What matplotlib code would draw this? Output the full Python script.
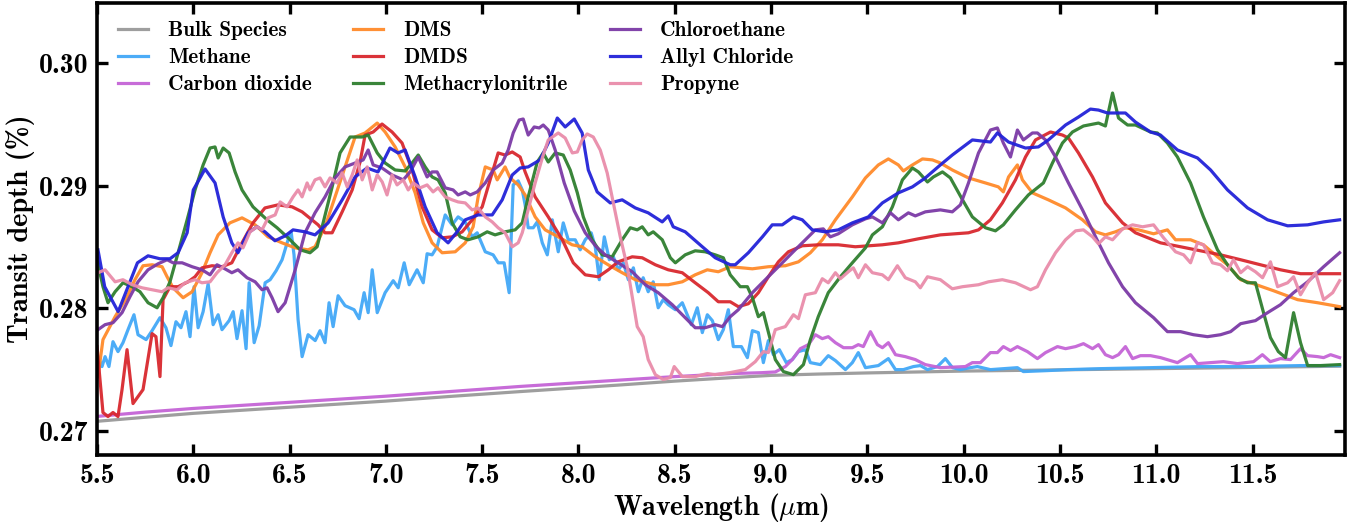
import matplotlib
matplotlib.use('Agg')
import matplotlib.pyplot as plt
from matplotlib.ticker import FormatStrFormatter

# ---------------- data (wavelength um, transit depth %) ----------------
labels = ["Bulk Species", "Methane", "Carbon dioxide", "DMS", "DMDS",
          "Methacrylonitrile", "Chloroethane", "Allyl Chloride", "Propyne"]
colors = ["#999999", "#42a8f7", "#c464d6", "#ff8a2a", "#d8282e",
          "#2f7f2f", "#7b3aa6", "#2222d8", "#e98caa"]

bulk = [(5.5, 0.27075), (5.75, 0.27108), (6.0, 0.27140), (6.3, 0.27170), (6.6, 0.27200),
        (7.0, 0.27240), (7.35, 0.27280), (7.7, 0.27318), (8.2, 0.27370), (8.5, 0.27403),
        (8.8, 0.27432), (9.0, 0.27450), (9.25, 0.27461), (9.5, 0.27470), (10.0, 0.27485),
        (10.5, 0.27495), (11.0, 0.27505), (11.5, 0.27515), (11.952, 0.27525)]

methane = [(5.505,0.27603),(5.526,0.27522),(5.542,0.27603),(5.562,0.27522),(5.583,0.27725),
    (5.609,0.27644),(5.635,0.27717),(5.661,0.27823),(5.692,0.27945),(5.713,0.27782),
    (5.755,0.27742),(5.786,0.27815),(5.827,0.27921),(5.858,0.27839),(5.884,0.27693),
    (5.91,0.27888),(5.936,0.27839),(5.962,0.27970),(5.983,0.27766),(6.004,0.28174),
    (6.025,0.27839),(6.051,0.27970),(6.077,0.28198),(6.103,0.27864),(6.129,0.27945),
    (6.149,0.27823),(6.186,0.27897),(6.207,0.27970),(6.227,0.27750),(6.253,0.27978),
    (6.274,0.27668),(6.29,0.28206),(6.316,0.27717),(6.342,0.27856),(6.373,0.28206),
    (6.399,0.28231),(6.43,0.28304),(6.461,0.28394),(6.492,0.28557),(6.508,0.28622),
    (6.523,0.28434),(6.544,0.27905),(6.565,0.27603),(6.596,0.27782),(6.633,0.27734),
    (6.658,0.27815),(6.684,0.27717),(6.705,0.28043),(6.726,0.27848),(6.752,0.28100),
    (6.788,0.28019),(6.835,0.27986),(6.861,0.27913),(6.887,0.28125),(6.908,0.27962),
    (6.929,0.28312),(6.955,0.27962),(6.996,0.28125),(7.038,0.28223),(7.064,0.28165),
    (7.095,0.28369),(7.121,0.28190),(7.162,0.28312),(7.194,0.28206),(7.214,0.28443),
    (7.24,0.28434),(7.266,0.28500),(7.308,0.28760),(7.344,0.28679),(7.375,0.28744),
    (7.412,0.28703),(7.448,0.28581),(7.474,0.28614),(7.516,0.28459),(7.557,0.28434),
    (7.583,0.28369),(7.614,0.28369),(7.64,0.28125),(7.661,0.29005),(7.687,0.29038),
    (7.708,0.28964),(7.723,0.28842),(7.739,0.28655),(7.765,0.28655),(7.786,0.28703),
    (7.812,0.28532),(7.838,0.28434),(7.864,0.28720),(7.895,0.28459),(7.921,0.28695),
    (7.947,0.28557),(7.983,0.28557),(8.009,0.28475),(8.035,0.28557),(8.066,0.28614),
    (8.087,0.28500),(8.108,0.28231),(8.134,0.28581),(8.16,0.28394),(8.181,0.28418),
    (8.207,0.28312),(8.233,0.28369),(8.259,0.28231),(8.285,0.28328),(8.311,0.28133),
    (8.336,0.28247),(8.362,0.28133),(8.388,0.28214),(8.414,0.28002),(8.44,0.28068),
    (8.466,0.28027),(8.503,0.27986),(8.539,0.28043),(8.565,0.27945),(8.586,0.27864),
    (8.617,0.28002),(8.643,0.27799),(8.669,0.27945),(8.695,0.27897),(8.726,0.27742),
    (8.752,0.27823),(8.778,0.27986),(8.804,0.27685),(8.846,0.27685),(8.877,0.27595),
    (8.903,0.27815),(8.934,0.27799),(8.96,0.27554),(8.986,0.27734),(9.012,0.27619),
    (9.043,0.27660),(9.079,0.27554),(9.11,0.27579),(9.142,0.27644),(9.178,0.27660),
    (9.204,0.27554),(9.256,0.27538),(9.297,0.27611),(9.334,0.27571),(9.386,0.27497),
    (9.422,0.27554),(9.453,0.27636),(9.49,0.27513),(9.557,0.27530),(9.609,0.27587),
    (9.646,0.27497),(9.687,0.27497),(9.739,0.27522),(9.775,0.27530),(9.812,0.27497),
    (9.864,0.27522),(9.905,0.27587),(9.942,0.27513),(9.983,0.27497),(10.035,0.27513),
    (10.071,0.27522),(10.139,0.27497),(10.207,0.27505),(10.279,0.27513),(10.31,0.27481),
    (10.435,0.27489),(10.539,0.27497),(10.71,0.27505),(10.97,0.27513),(11.23,0.27522),
    (11.49,0.27522),(11.75,0.27530),(11.952,0.27530)]

co2 = [(5.5,0.27115),(5.75,0.27150),(6.0,0.27180),(6.3,0.27210),(6.6,0.27240),(7.0,0.27280),
    (7.35,0.27320),(7.7,0.27360),(8.2,0.27410),(8.5,0.27440),(8.8,0.27465),(8.95,0.27472),
    (9.022,0.27478),(9.074,0.27522),(9.11,0.27579),(9.152,0.27668),(9.194,0.27701),
    (9.23,0.27782),(9.266,0.27750),(9.297,0.27766),(9.334,0.27717),(9.376,0.27676),
    (9.422,0.27676),(9.453,0.27701),(9.479,0.27685),(9.516,0.27807),(9.552,0.27701),
    (9.578,0.27676),(9.609,0.27717),(9.646,0.27619),(9.697,0.27603),(9.749,0.27579),
    (9.801,0.27538),(9.879,0.27513),(10.009,0.27522),(10.045,0.27554),(10.087,0.27554),
    (10.139,0.27636),(10.175,0.27636),(10.206,0.27685),(10.243,0.27652),(10.279,0.27685),
    (10.331,0.27644),(10.383,0.27587),(10.425,0.27636),(10.487,0.27685),(10.529,0.27668),
    (10.581,0.27685),(10.622,0.27709),(10.669,0.27668),(10.70,0.27701),(10.736,0.27619),
    (10.773,0.27595),(10.804,0.27619),(10.84,0.27685),(10.877,0.27587),(10.918,0.27611),
    (10.97,0.27611),(11.022,0.27595),(11.11,0.27554),(11.178,0.27619),(11.214,0.27546),
    (11.349,0.27562),(11.422,0.27546),(11.505,0.27562),(11.551,0.27619),(11.592,0.27562),
    (11.645,0.27587),(11.697,0.27579),(11.749,0.27668),(11.786,0.27611),(11.838,0.27603),
    (11.869,0.27595),(11.905,0.27619),(11.952,0.27595)]

dms = [(5.505,0.27440),(5.531,0.27742),(5.594,0.27929),(5.656,0.28092),(5.697,0.28231),
    (5.739,0.28345),(5.786,0.28353),(5.838,0.28337),(5.864,0.28255),(5.895,0.28165),
    (5.947,0.28084),(5.994,0.28133),(6.045,0.28288),(6.087,0.28451),(6.129,0.28597),
    (6.19,0.28695),(6.253,0.28736),(6.321,0.28679),(6.388,0.28581),(6.461,0.28532),
    (6.529,0.28491),(6.596,0.28475),(6.632,0.28500),(6.684,0.28663),(6.736,0.28907),
    (6.788,0.29152),(6.84,0.29396),(6.892,0.29429),(6.955,0.29510),(6.996,0.29437),
    (7.048,0.29315),(7.10,0.29152),(7.152,0.28940),(7.194,0.28695),(7.24,0.28532),
    (7.292,0.28451),(7.36,0.28459),(7.412,0.28532),(7.453,0.28663),(7.479,0.28907),
    (7.516,0.29152),(7.557,0.29127),(7.578,0.29046),(7.619,0.29152),(7.645,0.29062),
    (7.687,0.29005),(7.723,0.28923),(7.775,0.28744),(7.827,0.28638),(7.895,0.28581),
    (7.967,0.28516),(8.019,0.28500),(8.087,0.28418),(8.154,0.28353),(8.227,0.28288),
    (8.295,0.28231),(8.399,0.28190),(8.466,0.28190),(8.539,0.28214),(8.606,0.28271),
    (8.669,0.28312),(8.726,0.28296),(8.788,0.28337),(8.903,0.28320),(8.986,0.28337),
    (9.074,0.28345),(9.142,0.28377),(9.204,0.28451),(9.266,0.28557),(9.334,0.28720),
    (9.422,0.28907),(9.49,0.29062),(9.557,0.29168),(9.609,0.29217),(9.661,0.29168),
    (9.687,0.29119),(9.734,0.29168),(9.786,0.29217),(9.838,0.29209),(9.879,0.29184),
    (9.941,0.29127),(10.025,0.29062),(10.113,0.29021),(10.18,0.28989),(10.206,0.28948),
    (10.233,0.29070),(10.279,0.29168),(10.305,0.29046),(10.357,0.28940),(10.44,0.28883),
    (10.529,0.28817),(10.617,0.28720),(10.685,0.28622),(10.736,0.28597),(10.788,0.28622),
    (10.84,0.28655),(10.908,0.28638),(10.986,0.28606),(11.058,0.28638),(11.10,0.28557),
    (11.178,0.28557),(11.245,0.28516),(11.318,0.28418),(11.37,0.28353),(11.438,0.28231),
    (11.505,0.28198),(11.609,0.28141),(11.734,0.28068),(11.838,0.28043),(11.952,0.28011)]

dmds = [(5.50,0.27685),(5.531,0.27147),(5.557,0.27114),(5.583,0.27147),(5.609,0.27114),
    (5.63,0.27334),(5.656,0.27660),(5.687,0.27220),(5.739,0.27334),(5.786,0.27791),
    (5.806,0.27766),(5.827,0.27440),(5.843,0.28068),(5.879,0.28174),(5.921,0.28174),
    (5.973,0.28214),(6.009,0.28255),(6.045,0.28328),(6.097,0.28345),(6.149,0.28337),
    (6.20,0.28369),(6.253,0.28532),(6.31,0.28695),(6.372,0.28817),(6.44,0.28842),
    (6.513,0.28826),(6.565,0.28785),(6.648,0.28679),(6.684,0.28614),(6.721,0.28614),
    (6.773,0.28785),(6.825,0.28964),(6.866,0.29192),(6.892,0.29412),(6.934,0.29437),
    (6.98,0.29502),(7.032,0.29437),(7.084,0.29347),(7.136,0.29127),(7.188,0.28826),
    (7.24,0.28638),(7.292,0.28573),(7.344,0.28581),(7.396,0.28622),(7.448,0.28720),
    (7.50,0.28826),(7.541,0.29046),(7.583,0.29266),(7.619,0.29249),(7.656,0.29274),
    (7.697,0.29233),(7.723,0.29111),(7.775,0.28907),(7.843,0.28744),(7.916,0.28557),
    (7.973,0.28369),(8.035,0.28271),(8.103,0.28255),(8.155,0.28312),(8.206,0.28377),
    (8.279,0.28418),(8.331,0.28410),(8.399,0.28353),(8.466,0.28312),(8.539,0.28288),
    (8.606,0.28206),(8.674,0.28125),(8.726,0.28051),(8.788,0.28051),(8.83,0.28011),
    (8.882,0.28035),(8.934,0.28125),(8.986,0.28255),(9.038,0.28377),(9.09,0.28459),
    (9.162,0.28508),(9.245,0.28516),(9.349,0.28516),(9.437,0.28500),(9.578,0.28516),
    (9.661,0.28532),(9.765,0.28565),(9.879,0.28597),(10.025,0.28614),(10.077,0.28638),
    (10.139,0.28720),(10.201,0.28858),(10.269,0.29046),(10.321,0.29233),(10.373,0.29372),
    (10.451,0.29437),(10.513,0.29412),(10.544,0.29388),(10.596,0.29266),(10.669,0.29070),
    (10.736,0.28858),(10.825,0.28695),(10.892,0.28614),(10.97,0.28565),(11.022,0.28532),
    (11.126,0.28500),(11.23,0.28467),(11.334,0.28434),(11.438,0.28394),(11.541,0.28353),
    (11.645,0.28312),(11.749,0.28280),(11.952,0.28280)]

methacrylonitrile = [(5.50,0.28394),(5.531,0.28174),(5.557,0.28043),(5.594,0.28133),
    (5.635,0.28206),(5.682,0.28174),(5.723,0.28133),(5.765,0.28043),(5.812,0.28002),
    (5.843,0.28084),(5.879,0.28214),(5.921,0.28451),(5.968,0.28720),(6.009,0.28964),
    (6.051,0.29168),(6.087,0.29306),(6.113,0.29315),(6.129,0.29225),(6.155,0.29306),
    (6.186,0.29266),(6.217,0.29111),(6.253,0.28964),(6.31,0.28826),(6.383,0.28720),
    (6.435,0.28655),(6.492,0.28573),(6.555,0.28475),(6.606,0.28451),(6.643,0.28500),
    (6.674,0.28695),(6.721,0.28989),(6.762,0.29266),(6.814,0.29396),(6.877,0.29396),
    (6.908,0.29412),(6.955,0.29266),(6.996,0.29184),(7.048,0.29127),(7.10,0.29119),
    (7.136,0.29184),(7.168,0.29249),(7.204,0.29152),(7.24,0.29070),(7.271,0.29046),
    (7.308,0.28940),(7.344,0.28695),(7.386,0.28581),(7.427,0.28557),(7.479,0.28581),
    (7.526,0.28622),(7.567,0.28597),(7.619,0.28622),(7.671,0.28638),(7.708,0.28695),
    (7.739,0.28907),(7.786,0.29192),(7.817,0.29266),(7.843,0.29192),(7.879,0.29266),
    (7.921,0.29249),(7.957,0.29127),(7.994,0.28940),(8.025,0.28744),(8.071,0.28557),
    (8.123,0.28434),(8.175,0.28418),(8.227,0.28557),(8.269,0.28655),(8.305,0.28638),
    (8.331,0.28663),(8.362,0.28597),(8.388,0.28622),(8.435,0.28557),(8.477,0.28410),
    (8.503,0.28369),(8.554,0.28434),(8.606,0.28467),(8.658,0.28459),(8.71,0.28434),
    (8.752,0.28410),(8.788,0.28271),(8.84,0.28174),(8.877,0.28174),(8.903,0.28084),
    (8.934,0.27929),(8.96,0.27962),(8.996,0.27742),(9.022,0.27579),(9.064,0.27481),
    (9.116,0.27456),(9.168,0.27538),(9.204,0.27742),(9.245,0.27929),(9.297,0.28125),
    (9.36,0.28255),(9.422,0.28369),(9.49,0.28491),(9.526,0.28597),(9.578,0.28663),
    (9.63,0.28826),(9.682,0.29046),(9.734,0.29143),(9.765,0.29111),(9.812,0.29029),
    (9.843,0.29070),(9.89,0.29111),(9.931,0.29062),(9.994,0.28883),(10.045,0.28744),
    (10.113,0.28655),(10.165,0.28630),(10.206,0.28679),(10.269,0.28801),(10.336,0.28923),
    (10.414,0.29021),(10.461,0.29184),(10.513,0.29347),(10.565,0.29437),(10.622,0.29486),
    (10.70,0.29510),(10.736,0.29486),(10.773,0.29755),(10.804,0.29551),(10.851,0.29494),
    (10.892,0.29494),(10.97,0.29437),(11.006,0.29429),(11.058,0.29347),(11.11,0.29233),
    (11.178,0.29021),(11.245,0.28744),(11.318,0.28475),(11.37,0.28353),(11.427,0.28247),
    (11.474,0.28206),(11.515,0.28206),(11.557,0.27962),(11.593,0.27758),(11.634,0.27644),
    (11.671,0.27595),(11.713,0.27962),(11.749,0.27717),(11.786,0.27530),(11.853,0.27530),
    (11.952,0.27538)]

chloroethane = [(5.505,0.27823),(5.542,0.27864),(5.583,0.27880),(5.63,0.27962),(5.671,0.28092),
    (5.713,0.28214),(5.765,0.28312),(5.817,0.28361),(5.864,0.28394),(5.895,0.28369),
    (5.942,0.28369),(5.994,0.28337),(6.045,0.28312),(6.087,0.28271),(6.123,0.28353),
    (6.155,0.28328),(6.20,0.28288),(6.232,0.28312),(6.279,0.28247),(6.321,0.28214),
    (6.357,0.28149),(6.383,0.28165),(6.409,0.28084),(6.44,0.27970),(6.477,0.28043),
    (6.529,0.28312),(6.58,0.28614),(6.632,0.28777),(6.684,0.28907),(6.736,0.29062),
    (6.788,0.29152),(6.84,0.29184),(6.882,0.29209),(6.908,0.29290),(6.934,0.29168),
    (6.98,0.29143),(7.032,0.29086),(7.09,0.29046),(7.126,0.29111),(7.168,0.29233),
    (7.214,0.29070),(7.24,0.29111),(7.266,0.29111),(7.308,0.28981),(7.349,0.28964),
    (7.375,0.28923),(7.412,0.28948),(7.438,0.28923),(7.474,0.28948),(7.516,0.29021),
    (7.557,0.29127),(7.604,0.29184),(7.635,0.29290),(7.661,0.29429),(7.692,0.29535),
    (7.713,0.29543),(7.739,0.29412),(7.770,0.29478),(7.796,0.29470),(7.817,0.29494),
    (7.843,0.29453),(7.879,0.29290),(7.926,0.29021),(7.978,0.28793),(8.035,0.28614),
    (8.092,0.28500),(8.139,0.28434),(8.206,0.28369),(8.279,0.28296),(8.347,0.28190),
    (8.414,0.28125),(8.487,0.28027),(8.554,0.27921),(8.606,0.27839),(8.658,0.27839),
    (8.71,0.27864),(8.747,0.27848),(8.788,0.27929),(8.83,0.27986),(8.903,0.28125),
    (8.97,0.28231),(9.038,0.28337),(9.11,0.28451),(9.178,0.28557),(9.23,0.28638),
    (9.271,0.28646),(9.308,0.28581),(9.349,0.28606),(9.422,0.28679),(9.49,0.28728),
    (9.526,0.28744),(9.578,0.28695),(9.62,0.28777),(9.661,0.28720),(9.713,0.28777),
    (9.749,0.28752),(9.801,0.28785),(9.879,0.28801),(9.941,0.28785),(9.983,0.28842),
    (10.025,0.29021),(10.077,0.29266),(10.139,0.29453),(10.175,0.29470),(10.206,0.29347),
    (10.243,0.29233),(10.279,0.29453),(10.31,0.29372),(10.357,0.29429),(10.383,0.29429),
    (10.425,0.29372),(10.477,0.29233),(10.544,0.29021),(10.617,0.28801),(10.685,0.28581),
    (10.752,0.28369),(10.825,0.28174),(10.892,0.28043),(10.986,0.27921),(11.058,0.27807),
    (11.126,0.27807),(11.193,0.27782),(11.266,0.27766),(11.334,0.27782),(11.386,0.27807),
    (11.438,0.27872),(11.515,0.27897),(11.578,0.27962),(11.645,0.28027),(11.713,0.28125),
    (11.786,0.28214),(11.869,0.28337),(11.952,0.28451)]

allyl_chloride = [(5.505,0.28475),(5.54,0.28174),(5.61,0.27970),(5.71,0.28369),(5.765,0.28426),
    (5.827,0.28402),(5.879,0.28402),(5.921,0.28451),(5.968,0.28614),(6.0,0.28964),
    (6.061,0.29135),(6.113,0.29021),(6.155,0.28744),(6.2,0.28532),(6.232,0.28451),
    (6.284,0.28614),(6.331,0.28663),(6.372,0.28622),(6.424,0.28549),(6.477,0.28589),
    (6.518,0.28638),(6.58,0.28622),(6.632,0.28597),(6.7,0.28695),(6.773,0.28883),
    (6.84,0.29070),(6.902,0.29143),(6.959,0.29111),(7.021,0.29306),(7.063,0.29266),
    (7.1,0.29290),(7.152,0.29070),(7.204,0.28826),(7.266,0.28614),(7.323,0.28532),
    (7.37,0.28622),(7.412,0.28720),(7.479,0.28760),(7.552,0.28760),(7.604,0.28883),
    (7.656,0.29086),(7.697,0.29143),(7.739,0.29152),(7.8,0.29209),(7.843,0.29347),
    (7.89,0.29551),(7.931,0.29478),(7.978,0.29543),(8.019,0.29429),(8.051,0.29127),
    (8.097,0.28948),(8.165,0.28858),(8.227,0.28883),(8.295,0.28817),(8.362,0.28777),
    (8.435,0.28703),(8.466,0.28752),(8.492,0.28663),(8.554,0.28622),(8.643,0.28500),
    (8.71,0.28410),(8.788,0.28353),(8.814,0.28353),(8.882,0.28451),(8.955,0.28581),
    (9.006,0.28679),(9.058,0.28679),(9.116,0.28744),(9.162,0.28720),(9.214,0.28638),
    (9.281,0.28622),(9.349,0.28638),(9.422,0.28695),(9.505,0.28744),(9.578,0.28858),
    (9.661,0.28940),(9.734,0.28989),(9.801,0.29062),(9.879,0.29168),(9.941,0.29249),
    (10.045,0.29372),(10.139,0.29355),(10.175,0.29429),(10.233,0.29355),(10.321,0.29306),
    (10.388,0.29315),(10.44,0.29372),(10.529,0.29494),(10.596,0.29559),(10.658,0.29624),
    (10.7,0.29616),(10.747,0.29592),(10.84,0.29592),(10.892,0.29518),(10.97,0.29437),
    (11.022,0.29412),(11.11,0.29290),(11.214,0.29225),(11.282,0.29127),(11.37,0.28964),
    (11.474,0.28817),(11.578,0.28720),(11.682,0.28671),(11.786,0.28679),(11.869,0.28703),
    (11.952,0.28720)]

propyne = [(5.505,0.28288),(5.542,0.28312),(5.594,0.28214),(5.635,0.28231),(5.682,0.28190),
    (5.734,0.28165),(5.786,0.28149),(5.838,0.28133),(5.869,0.28165),(5.916,0.28149),
    (5.957,0.28206),(6.009,0.28231),(6.045,0.28206),(6.087,0.28214),(6.123,0.28288),
    (6.165,0.28353),(6.20,0.28451),(6.232,0.28532),(6.258,0.28491),(6.295,0.28622),
    (6.331,0.28663),(6.357,0.28638),(6.388,0.28736),(6.425,0.28760),(6.451,0.28866),
    (6.487,0.28826),(6.518,0.28907),(6.544,0.28964),(6.565,0.28907),(6.591,0.29021),
    (6.606,0.28964),(6.632,0.29046),(6.658,0.29062),(6.684,0.28989),(6.71,0.29062),
    (6.747,0.29021),(6.773,0.29103),(6.799,0.28989),(6.825,0.29086),(6.851,0.29209),
    (6.877,0.29046),(6.903,0.29152),(6.929,0.28964),(6.955,0.29086),(6.981,0.29029),
    (7.006,0.28923),(7.032,0.29086),(7.058,0.29005),(7.09,0.29046),(7.116,0.28964),
    (7.142,0.29021),(7.178,0.28981),(7.214,0.29005),(7.245,0.28948),(7.271,0.28981),
    (7.308,0.28907),(7.344,0.28883),(7.375,0.28866),(7.412,0.28858),(7.448,0.28801),
    (7.479,0.28817),(7.516,0.28744),(7.552,0.28703),(7.583,0.28655),(7.619,0.28614),
    (7.656,0.28500),(7.687,0.28532),(7.708,0.28614),(7.739,0.28801),(7.775,0.29021),
    (7.812,0.29225),(7.843,0.29372),(7.895,0.29429),(7.931,0.29388),(7.968,0.29266),
    (7.994,0.29274),(8.019,0.29372),(8.045,0.29421),(8.077,0.29396),(8.113,0.29290),
    (8.149,0.29103),(8.181,0.28858),(8.217,0.28581),(8.253,0.28337),(8.279,0.28092),
    (8.305,0.27848),(8.336,0.27766),(8.362,0.27579),(8.399,0.27456),(8.44,0.27416),
    (8.477,0.27432),(8.497,0.27522),(8.539,0.27440),(8.606,0.27440),(8.669,0.27465),
    (8.71,0.27456),(8.788,0.27473),(8.866,0.27497),(8.918,0.27562),(8.96,0.27644),
    (8.986,0.27636),(9.022,0.27823),(9.074,0.27848),(9.116,0.27945),(9.142,0.27913),
    (9.178,0.28108),(9.23,0.28125),(9.266,0.28239),(9.297,0.28206),(9.334,0.28288),
    (9.36,0.28239),(9.401,0.28296),(9.427,0.28328),(9.453,0.28247),(9.49,0.28353),
    (9.526,0.28288),(9.578,0.28271),(9.609,0.28231),(9.656,0.28345),(9.697,0.28247),
    (9.749,0.28214),(9.775,0.28165),(9.812,0.28255),(9.879,0.28231),(9.941,0.28157),
    (9.994,0.28174),(10.077,0.28190),(10.129,0.28214),(10.201,0.28231),(10.269,0.28206),
    (10.347,0.28149),(10.383,0.28174),(10.425,0.28312),(10.477,0.28451),(10.529,0.28557),
    (10.581,0.28630),(10.622,0.28638),(10.669,0.28581),(10.70,0.28524),(10.736,0.28581),
    (10.773,0.28557),(10.825,0.28646),(10.877,0.28679),(10.929,0.28663),(10.986,0.28679),
    (11.038,0.28573),(11.10,0.28459),(11.142,0.28434),(11.178,0.28369),(11.214,0.28532),
    (11.245,0.28516),(11.292,0.28369),(11.334,0.28353),(11.37,0.28304),(11.401,0.28394),
    (11.438,0.28288),(11.474,0.28337),(11.515,0.28296),(11.552,0.28247),(11.593,0.28377),
    (11.63,0.28174),(11.682,0.28206),(11.713,0.28255),(11.749,0.28108),(11.786,0.28206),
    (11.827,0.28288),(11.869,0.28068),(11.916,0.28125),(11.952,0.28223)]

series = [bulk, methane, co2, dms, dmds, methacrylonitrile, chloroethane, allyl_chloride, propyne]

xticks = [5.5, 6.0, 6.5, 7.0, 7.5, 8.0, 8.5, 9.0, 9.5, 10.0, 10.5, 11.0, 11.5]
yticks = [0.27, 0.28, 0.29, 0.30]

# ---------------- style ----------------
plt.rcParams['font.family'] = ['cmb10', 'DejaVu Sans']
plt.rcParams['mathtext.fontset'] = 'cm'
plt.rcParams['axes.unicode_minus'] = False

W, H = 1364, 523
fig = plt.figure(figsize=(W / 100, H / 100), dpi=100)
ax = fig.add_axes([97 / W, 1 - 455 / H, (1345 - 97) / W, (455 - 3) / H])

handles = []
for data, lab, col in zip(series, labels, colors):
    xs = [p[0] for p in data]
    ys = [p[1] for p in data]
    ln, = ax.plot(xs, ys, color=col, lw=2.3, alpha=0.95, label=lab, solid_joinstyle='round')
    handles.append(ln)

ax.set_xlim(5.5, 11.98)
ax.set_ylim(0.268, 0.3049)
ax.set_xticks(xticks)
ax.set_yticks(yticks)
ax.xaxis.set_major_formatter(FormatStrFormatter('%.1f'))
ax.yaxis.set_major_formatter(FormatStrFormatter('%.2f'))
ax.tick_params(axis='both', which='major', direction='in', length=8, width=2.4,
               top=True, right=True, labelsize=20)
ax.tick_params(axis='x', pad=6)
ax.tick_params(axis='y', pad=6)
for sp in ax.spines.values():
    sp.set_linewidth(2.6)

ax.set_xlabel(r'Wavelength ($\mu$m)', fontsize=20)
ax.xaxis.set_label_coords(0.5, -0.080)
ax.set_ylabel('Transit depth (%)', fontsize=20.5, labelpad=3)

# legend: three columns placed separately
col_x = [(118 - 97) / 1248, (353 - 97) / 1248, (610 - 97) / 1248]
top_y = 1 - (21 - 3) / 452
for i in range(3):
    leg = ax.legend(handles=handles[3 * i:3 * i + 3], loc='upper left',
                    bbox_to_anchor=(col_x[i], top_y), borderaxespad=0, borderpad=0,
                    frameon=False, fontsize=15.3, handlelength=1.41,
                    handletextpad=0.94, labelspacing=0.38)
    if i < 2:
        ax.add_artist(leg)

fig.savefig('out.png', dpi=100)
